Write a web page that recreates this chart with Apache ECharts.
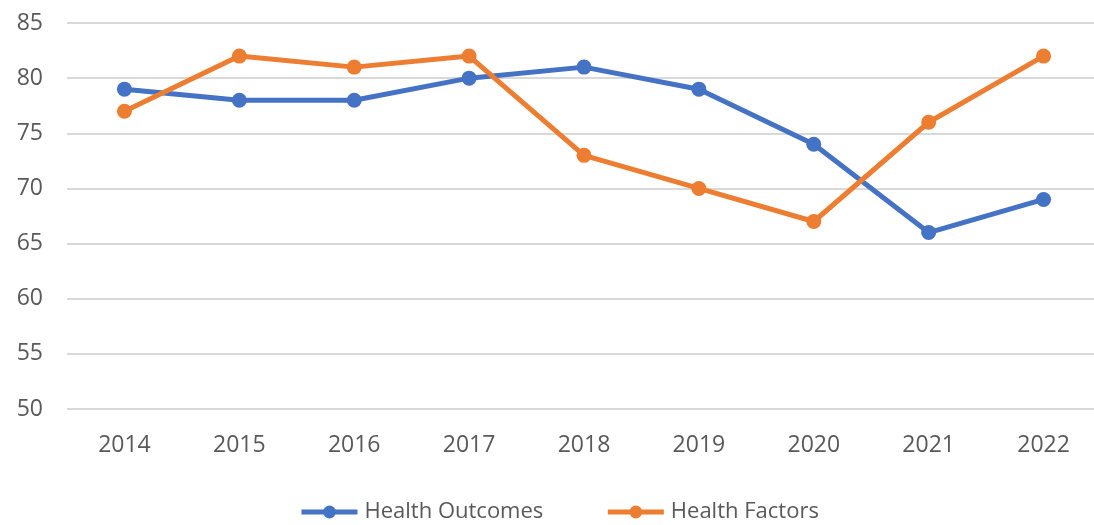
<!DOCTYPE html>
<html>
<head>
<meta charset="utf-8">
<script src="https://cdn.jsdelivr.net/npm/echarts@6/dist/echarts.min.js"></script>
<style>
  html, body { margin: 0; padding: 0; background: #fff; }
  #myChart1 { width: 1094px; height: 525px; }
</style>
</head>
<body>
<div id="myChart1"></div>
<script>
var years = ["2014", "2015", "2016", "2017", "2018", "2019", "2020", "2021", "2022"];
var healthOutcomes = [79, 78, 78, 80, 81, 79, 74, 66, 69];
var healthFactors = [77, 82, 81, 82, 73, 70, 67, 76, 82];

var chartDom = document.getElementById("myChart1");
var myChart = echarts.init(chartDom);
var option;

option = {
  backgroundColor: "#fff",
  textStyle: { fontFamily: "Open Sans" },
  grid: { left: 67, top: 23, width: 1034, height: 386, outerBoundsMode: "none" },
  legend: {
    left: 294,
    top: 496,
    itemWidth: 56,
    itemHeight: 16,
    itemGap: 62,
    lineStyle: { width: 5 },
    textStyle: { fontSize: 22, color: "#595959", fontFamily: "Open Sans", padding: [0, 0, 0, 2] },
    data: ["Health Outcomes", "Health Factors"]
  },
  xAxis: {
    type: "category",
    data: years,
    axisLine: { show: false },
    axisTick: { show: false },
    axisLabel: { fontSize: 23, color: "#595959", margin: 25 }
  },
  yAxis: {
    type: "value",
    min: 50,
    max: 85,
    interval: 5,
    axisLine: { show: false },
    axisTick: { show: false },
    axisLabel: { fontSize: 23, color: "#595959", margin: 24 },
    splitLine: { lineStyle: { color: "#d9d9d9", width: 2 } }
  },
  series: [
    {
      name: "Health Outcomes",
      type: "line",
      data: healthOutcomes,
      symbol: "circle",
      symbolSize: 15,
      color: "#4472C4",
      lineStyle: { width: 5 }
    },
    {
      name: "Health Factors",
      type: "line",
      data: healthFactors,
      symbol: "circle",
      symbolSize: 15,
      color: "#ED7D31",
      lineStyle: { width: 5 }
    }
  ]
};

option && myChart.setOption(option);
</script>
</body>
</html>
